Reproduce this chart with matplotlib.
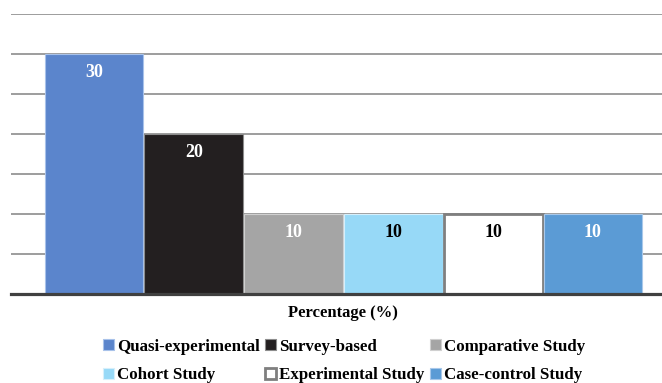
import matplotlib
matplotlib.use("Agg")
import matplotlib.pyplot as plt
import numpy as np

plt.rcParams['font.family'] = ['Liberation Serif', 'DejaVu Serif']

# study design shares
designs = ['Quasi-experimental', 'Survey-based', 'Comparative Study',
           'Cohort Study', 'Experimental Study', 'Case-control Study']
percent = [30, 20, 10, 10, 10, 10]

colors = ['#5b85cc', '#231f20', '#a5a5a5', '#97d9f7', '#ffffff', '#5b9bd5']
edges = ['#a8c2ea', '#8c8c8c', '#d0d0d0', '#d6effb', '#7f7f7f', '#a8c8ea']
edge_w = [0.8, 0.8, 0.8, 0.8, 2.0, 0.8]
label_colors = ['white', 'white', 'white', 'black', 'black', 'white']

fig = plt.figure(figsize=(6.62, 3.83), dpi=100)
ax = fig.add_axes([11 / 662, 89 / 383, 651 / 662, 280 / 383])

x = np.arange(len(designs))
bars = []
for i in range(len(designs)):
    b = ax.bar(x[i], percent[i], width=0.99, color=colors[i],
               edgecolor=edges[i], linewidth=edge_w[i], zorder=3,
               label=designs[i])
    bars.append(b)
    ax.annotate(str(percent[i]), (x[i], percent[i]), xytext=(0, -13.5),
                textcoords='offset points', ha='center', va='center',
                fontsize=13, fontweight='bold', color=label_colors[i],
                zorder=5)

ax.set_xlim(-0.831, 5.692)
ax.set_ylim(0, 35)
ax.set_yticks(np.arange(0, 36, 5))
ax.yaxis.grid(True, color='#828282', linewidth=1.1, zorder=0)
ax.set_axisbelow(True)
ax.tick_params(left=False, bottom=False, labelleft=False, labelbottom=False)
for s in ['top', 'right', 'left']:
    ax.spines[s].set_visible(False)
ax.spines['bottom'].set_color('#404040')
ax.spines['bottom'].set_linewidth(2.3)
ax.spines['bottom'].set_zorder(6)

fig.text(343 / 662, 1 - 313 / 383, 'Percentage (%)', ha='center', va='center',
         fontsize=12, fontweight='bold')

# legend rows: Quasi / Survey / Comparative, then Cohort / Experimental / Case-control
order = [0, 3, 1, 4, 2, 5]
handles = [bars[i] for i in order]
labels = [designs[i] for i in order]
leg = fig.legend(handles, labels, ncol=3, loc='center',
                 bbox_to_anchor=(344 / 662, 1 - 361 / 383),
                 frameon=False, prop={'size': 12.2, 'weight': 'bold'},
                 handlelength=0.65, handleheight=0.65, handletextpad=0.2,
                 columnspacing=0.3, labelspacing=0.75, borderpad=0)

fig.savefig('out.png', dpi=100)
